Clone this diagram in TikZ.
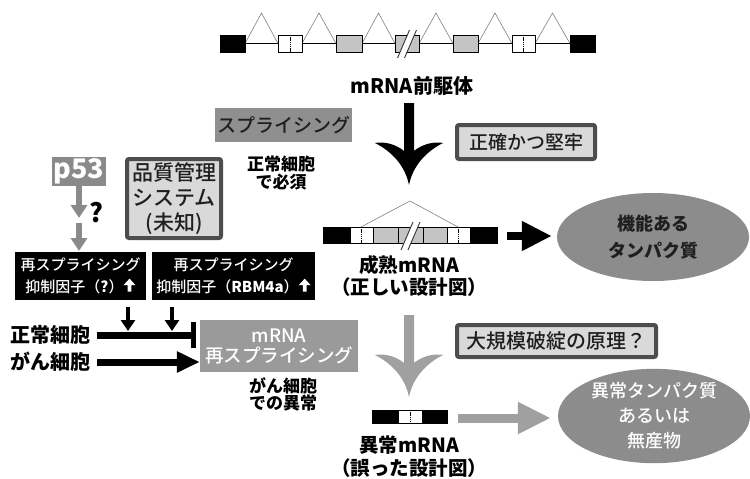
\documentclass[tikz,border=0pt]{standalone}
\usepackage{fontspec}
\setmainfont{Noto Sans CJK JP}
\newfontfamily\medfont{Noto Sans CJK JP Medium}
\usetikzlibrary{arrows.meta,shapes.geometric}
\definecolor{exongray}{HTML}{C4C4C4}
\definecolor{midgray}{HTML}{8F8F8F}
\definecolor{boxgray}{HTML}{9A9A9A}
\definecolor{lightfill}{HTML}{D9D9D9}
\definecolor{darkedge}{HTML}{4D4D4D}
\definecolor{txtdark}{HTML}{1F1F1F}
\definecolor{arrgray}{HTML}{A0A0A0}
\definecolor{ellgray}{HTML}{8C8C8C}
\definecolor{pgray}{HTML}{8A8A8A}
\newcommand\myfs[2]{\fontsize{#1}{#2}\selectfont}
\newcommand\uparr{\tikz[x=1pt,y=1pt,baseline=-1pt]\fill[white] (-1.8,0) -- (-1.8,6.5) -- (-6,6.5) -- (0,13) -- (6,6.5) -- (1.8,6.5) -- (1.8,0) -- cycle;}
\begin{document}
\begin{tikzpicture}[x=1pt,y=-1pt,
  exonblack/.style={draw=black, line width=0.9pt, fill=black},
  exonwhite/.style={draw=black, line width=0.9pt, fill=white},
  exongrey/.style={draw=black, line width=0.9pt, fill=exongray},
  dotline/.style={draw=black, line width=0.8pt, dash pattern=on 1.3pt off 0.9pt},
  tri/.style={draw=gray, line width=0.6pt},
  intron/.style={draw=black, line width=1.4pt},
  lbl/.style={inner sep=0pt, align=center},
  lightbox/.style={draw=darkedge, line width=4pt, fill=lightfill, rounded corners=2pt, inner sep=0pt, align=center, text=txtdark},
  blackbox/.style={fill=black, text=white, inner sep=0pt, align=center, font=\medfont\myfs{15}{22}},
  grayarr/.style={draw=pgray, line width=6pt, -{Triangle[width=16pt,length=13pt]}},
  smallarr/.style={draw=black, line width=4pt, -{Triangle[width=14pt,length=11pt]}},
  brk/.pic={
    \fill[white] (-3.5+6,-14) -- (3.5+6,-14) -- (3.5-6,14) -- (-3.5-6,14) -- cycle;
    \draw[black!80, line width=0.9pt] (-3.5+6,-14) -- (-3.5-6,14) (3.5+6,-14) -- (3.5-6,14);
  },
  bigdown/.pic={
    \path[pic actions] (-5,0) -- (-5,48) .. controls (-12,42) and (-24,38) .. (-34,40)
      .. controls (-18,48) and (-4,62) .. (0,82) .. controls (4,62) and (18,48) .. (34,40)
      .. controls (24,38) and (12,42) .. (5,48) -- (5,0) -- cycle;
  }
]
\useasboundingbox[fill=white] (0,0) rectangle (750,479);

% ---------- pre-mRNA ----------
\draw[intron] (245,43.5) -- (570,43.5);
\foreach \a/\b in {245/278,302/336,362/395,419/453,478/512,535/570}
  \draw[tri] (\a,43.5) -- ({(\a+\b)/2},13) -- (\b,43.5);
\draw[exonblack] (220,35) rectangle (245,52);
\draw[exonwhite] (278,35) rectangle (302,52);
\draw[dotline] (290,35) -- (290,52);
\draw[exongrey] (336,35) rectangle (362,52);
\draw[exongrey] (395,35) rectangle (419,52);
\pic at (407,44) {brk};
\draw[exongrey] (453,35) rectangle (478,52);
\draw[exonwhite] (512,35) rectangle (535,52);
\draw[dotline] (523.5,35) -- (523.5,52);
\draw[exonblack] (570,35) rectangle (595,52);
\node[lbl, font=\bfseries\myfs{20}{20}] (prelbl) at (412,86) {mRNA前駆体};

% ---------- splicing arrow ----------
\pic[fill=black] at (409,103) {bigdown};
\node[fill=midgray, minimum width=137pt, minimum height=34pt, inner sep=0pt,
      font=\medfont\myfs{19}{19}, text=txtdark] (splice) at (283.5,125) {スプライシング};
\node[lbl, font=\bfseries\myfs{17}{15}] (ess) at (281,173) {正常細胞\\で必須};
\node[lightbox, minimum width=138pt, minimum height=34pt, font=\medfont\myfs{19}{19}] (acc) at (526,142) {正確かつ堅牢};

% ---------- mature mRNA ----------
\draw[tri] (361,227) -- (410,201) -- (458,227);
\draw[exonblack] (323,227) rectangle (350,243);
\draw[exonwhite] (350,227) rectangle (373,243);
\draw[dotline] (361,227) -- (361,243);
\draw[exongrey] (373,227) rectangle (398,243);
\draw[exongrey] (398,227) rectangle (423,243);
\draw[exongrey] (423,227) rectangle (447,243);
\draw[exonwhite] (447,227) rectangle (470,243);
\draw[dotline] (458,227) -- (458,243);
\draw[exonblack] (470,227) rectangle (497,243);
\pic at (410.5,236) {brk};
\coordinate (matR) at (507,236);
\node[lbl, font=\bfseries\myfs{19.5}{22}] (matlbl) at (409,276) {成熟mRNA\\（正しい設計図）};

\node[ellipse, fill=ellgray, minimum width=192pt, minimum height=88pt, inner sep=0pt,
      align=center, font=\bfseries\myfs{18}{27}, text=txtdark] (func) at (653,237) {機能ある\\タンパク質};
\draw[black, line width=8pt, -{Triangle[width=28pt,length=30pt]}, shorten >=5pt] (matR) -- (matR -| func.west);

% ---------- p53 / QC ----------
\node[fill=pgray, text=white, minimum width=54pt, minimum height=29pt, inner sep=0pt,
      font=\bfseries\myfs{27}{27}] (p53) at (79,171.5) {p53};
\coordinate (q1) at (79,218);
\coordinate (q2) at (79,223);
\coordinate (q3) at (79,251);
\draw[grayarr] (p53.south) -- (q1);
\draw[grayarr] (q2) -- (q3);
\node[lbl, font=\bfseries\myfs{26}{26}] (qm) at (96,213) {?};
\node[lightbox, minimum width=94pt, minimum height=79pt, font=\medfont\myfs{21}{25}] (qc) at (174,198.5) {品質管理\\システム\\(未知)};

% ---------- repressors ----------
\node[blackbox, minimum width=131pt, minimum height=48pt] (rep1) at (80.5,276)
  {再スプライシング\\抑制因子（\textbf{?}）\uparr};
\node[blackbox, minimum width=163pt, minimum height=48pt] (rep2) at (233.5,276)
  {再スプライシング\\抑制因子（\textbf{RBM4a}）\uparr};
\coordinate (d1a) at (128,307);
\coordinate (d1b) at (128,331);
\coordinate (d2a) at (172,307);
\coordinate (d2b) at (172,331);
\draw[smallarr] (d1a) -- (d1b);
\draw[smallarr] (d2a) -- (d2b);

\node[fill=boxgray, text=white, minimum width=158pt, minimum height=52pt, inner sep=0pt,
      align=center, font=\medfont\myfs{18.5}{20}] (resp) at (279,346) {mRNA\\再スプライシング};
\node[lbl, font=\bfseries\myfs{20}{20}, anchor=west] (norm) at (10,335) {正常細胞};
\node[lbl, font=\bfseries\myfs{20}{20}, anchor=west] (canc) at (10,362) {がん細胞};
\draw[black, line width=7pt, -{Bar[width=26pt,line width=5pt]}] ([xshift=7pt]norm.east) -- (norm.east -| 196,0);
\draw[black, line width=7pt, -{Triangle[width=20pt,length=23pt]}] ([xshift=7pt]canc.east) -- (canc.east -| resp.west);
\node[lbl, font=\bfseries\myfs{17}{15}] (abn) at (283,394) {がん細胞\\での異常};

% ---------- aberrant ----------
\pic[fill=arrgray] at (409,315) {bigdown};
\node[lightbox, minimum width=199pt, minimum height=32pt, font=\medfont\myfs{20}{20}] (break) at (556.5,341) {大規模破綻の原理？};
\draw[exonblack] (372,410) rectangle (398,423);
\draw[exonwhite] (398,410) rectangle (422,423);
\draw[dotline] (410,410) -- (410,423);
\draw[exonblack] (422,410) rectangle (447,423);
\coordinate (abR) at (458,418);
\node[lbl, font=\bfseries\myfs{19.5}{23}] (ablbl) at (409,457) {異常mRNA\\（誤った設計図）};
\node[ellipse, fill=ellgray, minimum width=192pt, minimum height=88pt, inner sep=0pt,
      align=center, font=\medfont\myfs{18}{25}, text=white] (ab) at (654,416) {異常タンパク質\\あるいは\\無産物};
\draw[arrgray, line width=9pt, -{Triangle[width=30pt,length=33pt]}, shorten >=7pt] (abR) -- (abR -| ab.west);
\end{tikzpicture}
\end{document}
